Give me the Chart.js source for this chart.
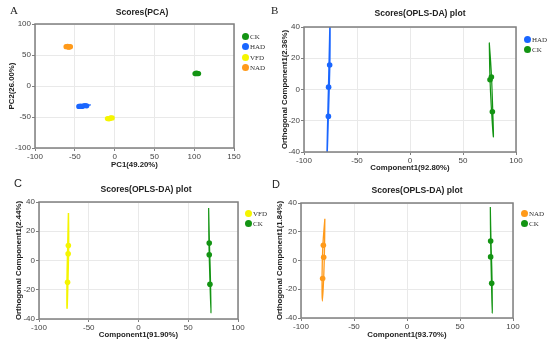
<!DOCTYPE html>
<html>
<head>
<meta charset="utf-8">
<script src="https://cdn.jsdelivr.net/npm/chart.js@4/dist/chart.umd.min.js"></script>
<style>
  body { margin: 0; background: #fff; }
  #wrap { position: relative; width: 550px; height: 344px; overflow: hidden; font-family: 'Liberation Sans', Arial, sans-serif; }
  canvas { position: absolute; }
  .ttl { position: absolute; font-weight: bold; font-size: 8.6px; color: #222; transform: translateX(-50%); white-space: nowrap; }
  .lbl { position: absolute; font-size: 11px; color: #222; }
  .leg { position: absolute; font-family: 'Liberation Serif', 'Times New Roman', serif; font-size: 7px; color: #333; line-height: 10.3px; }
  .leg span.dot { display: inline-block; width: 7px; height: 7px; border-radius: 50%; vertical-align: -1px; margin-right: 1px; }
</style>
</head>
<body>
<div id="wrap">
  <canvas id="cA" width="275" height="172" style="left:0;top:0"></canvas>
  <canvas id="cB" width="275" height="172" style="left:275px;top:0"></canvas>
  <canvas id="cC" width="275" height="172" style="left:0;top:172px"></canvas>
  <canvas id="cD" width="275" height="172" style="left:275px;top:172px"></canvas>

  <div class="lbl" style="left:10px;top:4px;font-family:'Liberation Serif',serif">A</div>
  <div class="lbl" style="left:271px;top:4px;font-family:'Liberation Serif',serif">B</div>
  <div class="lbl" style="left:14px;top:177px">C</div>
  <div class="lbl" style="left:272px;top:178px">D</div>

  <div class="ttl" style="left:142px;top:7px">Scores(PCA)</div>
  <div class="ttl" style="left:420px;top:8px">Scores(OPLS-DA) plot</div>
  <div class="ttl" style="left:146px;top:184px">Scores(OPLS-DA) plot</div>
  <div class="ttl" style="left:417px;top:185px">Scores(OPLS-DA) plot</div>

  <div class="leg" id="legA" style="left:242px;top:32px"></div>
  <div class="leg" id="legB" style="left:524px;top:35px"></div>
  <div class="leg" id="legC" style="left:245px;top:209px"></div>
  <div class="leg" id="legD" style="left:521px;top:209px"></div>
</div>
<script>
// colours per group
const groupColors = { CK: '#139413', HAD: '#1a66ff', VFD: '#f5f500', NAD: '#ff9a1a' };

// Panel A: PCA scores
const pcaGroups = ['CK', 'HAD', 'VFD', 'NAD'];
const pcaCK  = [[101, 20], [102.5, 21], [104, 20.5], [105.5, 20], [103, 19.8]];
const pcaHAD = [[-45, -33], [-43, -32.5], [-41, -33], [-39, -32], [-37, -31.5], [-35, -32]];
const pcaHADEllipse = [[-47, -34], [-40, -32.5], [-30, -30.5], [-40, -31.8]];
const pcaVFD = [[-9, -52.5], [-7, -53], [-5, -52], [-3, -51.5], [-5, -51.2]];
const pcaNAD = [[-61, 63.5], [-59, 64], [-57, 63], [-55.5, 63.5], [-58, 62.5]];
const pcaXTicks = [-100, -50, 0, 50, 100, 150];
const pcaYTicks = [-100, -50, 0, 50, 100];

// Panel B: HAD vs CK
const bHAD = [[-75.8, 15.7], [-76.8, 1.5], [-77, -17.2]];
const bHADEllipse = [[-75.4, 46], [-75.6, 20], [-76.3, 0], [-77.2, -20], [-78.4, -46], [-77.6, -20], [-76.9, 0], [-76.2, 20]];
const bCK = [[75.5, 6.2], [76.8, 8], [77.7, -14.2]];
const bCKEllipse = [[74.8, 30], [76.6, 12], [77.8, -8], [78.7, -30.3], [76.6, -10], [75.4, 8]];

// Panel C: VFD vs CK
const cVFD = [[-70.5, 10.3], [-70.7, 4.6], [-71.3, -14.9]];
const cVFDEllipse = [[-70.4, 32.5], [-70.2, 12], [-70.8, -10], [-71.8, -32.7], [-71.8, -12], [-71.1, 10]];
const cCK = [[71.1, 11.9], [71.1, 3.9], [71.8, -16.2]];
const cCKEllipse = [[70.5, 35.9], [71.3, 12], [72.3, -12], [72.8, -35.9], [71.7, -12], [70.8, 12]];

// Panel D: NAD vs CK
const dNAD = [[-78.9, 10.6], [-78.6, 2.3], [-79.6, -12.5]];
const dNADEllipse = [[-77.5, 29], [-77.8, 10], [-78.5, -10], [-79.8, -28.2], [-80.1, -10], [-79.4, 10]];
const dCK = [[78.9, 13.6], [78.9, 2.5], [79.9, -15.9]];
const dCKEllipse = [[78.6, 37.2], [79.3, 12], [80.2, -12], [80.4, -36.7], [79.6, -12], [78.9, 12]];

const oplsXTicks = [-100, -50, 0, 50, 100];
const oplsYTicks = [-40, -20, 0, 20, 40];

Chart.defaults.font.family = "'Liberation Sans', Arial, sans-serif";
Chart.defaults.animation = false;

function pts(arr) { return arr.map(p => ({ x: p[0], y: p[1] })); }

function hexA(hex, a) {
  const n = parseInt(hex.slice(1), 16);
  return `rgba(${n >> 16},${(n >> 8) & 255},${n & 255},${a})`;
}

function scatterSet(group, arr, r) {
  return { type: 'scatter', data: pts(arr), backgroundColor: groupColors[group], borderColor: groupColors[group],
           pointRadius: r, pointHoverRadius: r, borderWidth: 0, order: 1 };
}

function ellipseSet(group, arr, w, fillA) {
  const d = pts(arr);
  d.push(d[0]);
  return { type: 'line', data: d, borderColor: groupColors[group], backgroundColor: hexA(groupColors[group], fillA),
           borderWidth: w, pointRadius: 0, tension: 0.45, fill: true, order: 2 };
}

const frame = {
  id: 'frame',
  afterDatasetsDraw(chart) {
    const a = chart.chartArea, ctx = chart.ctx;
    ctx.save();
    ctx.strokeStyle = '#7f7f7f';
    ctx.lineWidth = 1.5;
    ctx.strokeRect(a.left, a.top, a.right - a.left, a.bottom - a.top);
    ctx.restore();
  }
};

function makeChart(id, datasets, o) {
  new Chart(document.getElementById(id), {
    data: { datasets: datasets },
    plugins: [frame],
    options: {
      responsive: false,
      layout: { padding: { left: 0, top: o.top, right: o.right, bottom: 0 } },
      plugins: { legend: { display: false }, tooltip: { enabled: false } },
      scales: {
        x: {
          type: 'linear', min: o.xTicks[0], max: o.xTicks[o.xTicks.length - 1],
          afterBuildTicks: s => { s.ticks = o.xTicks.map(v => ({ value: v })); },
          afterFit: s => { s.height = o.xh; },
          grid: { color: '#e9e9e9', tickColor: '#7f7f7f', tickLength: 3, lineWidth: 1 },
          border: { display: false },
          ticks: { color: '#444', font: { size: 8 }, padding: 1, maxRotation: 0 },
          title: { display: true, text: o.xTitle, color: '#222', font: { size: 7.8, weight: 'bold' }, padding: o.xtp }
        },
        y: {
          type: 'linear', min: o.yTicks[0], max: o.yTicks[o.yTicks.length - 1],
          afterBuildTicks: s => { s.ticks = o.yTicks.map(v => ({ value: v })); },
          afterFit: s => { s.width = o.yw; },
          grid: { color: '#e9e9e9', tickColor: '#7f7f7f', tickLength: 3, lineWidth: 1 },
          border: { display: false },
          ticks: { color: '#444', font: { size: 8 }, padding: 1 },
          title: { display: true, text: o.yTitle, color: '#222', font: { size: 7.8, weight: 'bold' }, padding: o.ytp }
        }
      }
    }
  });
}

function legend(id, groups) {
  document.getElementById(id).innerHTML = groups.map(g =>
    `<div><span class="dot" style="background:${groupColors[g]}"></span>${g}</div>`).join('');
}

makeChart('cA', [
  ellipseSet('HAD', pcaHADEllipse, 1, 0.4),
  scatterSet('CK', pcaCK, 2.6), scatterSet('HAD', pcaHAD, 2.6),
  scatterSet('VFD', pcaVFD, 2.6), scatterSet('NAD', pcaNAD, 2.6)
], { top: 24, right: 41, xh: 24, yw: 35, xTicks: pcaXTicks, yTicks: pcaYTicks,
     xTitle: 'PC1(49.20%)', yTitle: 'PC2(26.00%)', xtp: 2, ytp: 7 });

makeChart('cB', [
  ellipseSet('HAD', bHADEllipse, 1.5, 0.5), ellipseSet('CK', bCKEllipse, 1.2, 0.3),
  scatterSet('HAD', bHAD, 2.8), scatterSet('CK', bCK, 2.8)
], { top: 27, right: 34, xh: 20, yw: 29, xTicks: oplsXTicks, yTicks: oplsYTicks,
     xTitle: 'Component1(92.80%)', yTitle: 'Orthogonal Component1(2.36%)', xtp: -1, ytp: 5 });

makeChart('cC', [
  ellipseSet('VFD', cVFDEllipse, 1.5, 0.5), ellipseSet('CK', cCKEllipse, 1.2, 0.4),
  scatterSet('VFD', cVFD, 2.8), scatterSet('CK', cCK, 2.8)
], { top: 30, right: 37, xh: 25, yw: 39, xTicks: oplsXTicks, yTicks: oplsYTicks,
     xTitle: 'Component1(91.90%)', yTitle: 'Orthogonal Component1(2.44%)', xtp: 4, ytp: 14 });

makeChart('cD', [
  ellipseSet('NAD', dNADEllipse, 1.3, 0.55), ellipseSet('CK', dCKEllipse, 1.2, 0.4),
  scatterSet('NAD', dNAD, 2.8), scatterSet('CK', dCK, 2.8)
], { top: 31, right: 37, xh: 26, yw: 26, xTicks: oplsXTicks, yTicks: oplsYTicks,
     xTitle: 'Component1(93.70%)', yTitle: 'Orthogonal Component1(1.84%)', xtp: 4, ytp: 0 });

legend('legA', pcaGroups);
legend('legB', ['HAD', 'CK']);
legend('legC', ['VFD', 'CK']);
legend('legD', ['NAD', 'CK']);
</script>
</body>
</html>
